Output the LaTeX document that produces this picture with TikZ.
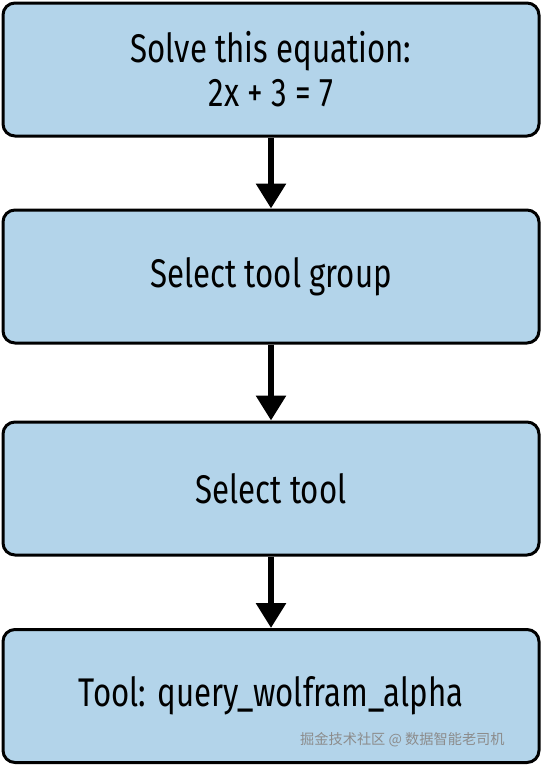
\documentclass[tikz,border=0pt]{standalone}
\usepackage{fontspec}
\setmainfont{Fira Sans}[FakeStretch=0.78]
\newfontfamily\cjk{Noto Sans CJK SC}
\usetikzlibrary{arrows.meta}
\definecolor{boxblue}{HTML}{B3D4EA}
\tikzset{
  flowbox/.style={shape=rectangle,draw,rounded corners=6pt,line width=1.5pt,
    fill=boxblue,minimum width=268pt,minimum height=66.5pt,align=center,
    font=\fontsize{20}{22}\selectfont},
  flowarrow/.style={line width=3pt,-{Triangle[width=14.5pt,length=12.5pt]}}
}
\begin{document}
\begin{tikzpicture}[x=0.5pt,y=-0.5pt]
  \useasboundingbox (0,0) rectangle (542,766);
  \path (271,69.5) node [flowbox] (solve) {Solve this equation:\\2x + 3 = 7}
  (271,276.5) node [flowbox] (group) {Select tool group}
  (271,488.5) node [flowbox] (tool) {Select tool}
  (271,696) node [flowbox] (wolfram) {Tool: query\_wolfram\_alpha};
  \draw [flowarrow] (solve) -- (group);
  \draw [flowarrow] (group) -- (tool);
  \draw [flowarrow] (tool) -- (wolfram);
  \node [text=black!45,font=\cjk\fontsize{7.1}{7.1}\selectfont,anchor=east,inner sep=0pt] (mark) at (505,740) {掘金技术社区 @ 数据智能老司机};
\end{tikzpicture}
\end{document}
